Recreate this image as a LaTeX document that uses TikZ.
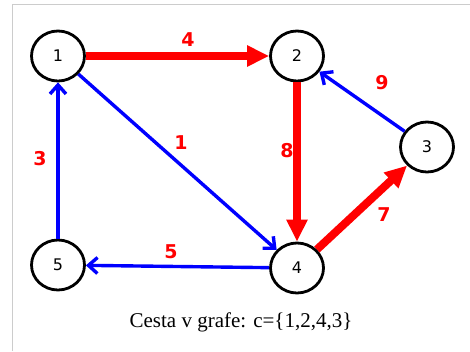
\documentclass[tikz,border=0pt]{standalone}
\usepackage{fontspec}
\setmainfont{Liberation Serif}
\newfontfamily\dejavu{DejaVu Sans}
\usetikzlibrary{arrows.meta,positioning,shapes.geometric}

\begin{document}
\begin{tikzpicture}[x=1pt,y=-1pt,>=Latex,every node/.style={font=\dejavu\fontsize{16}{18}\selectfont}]
  \tikzset{v/.style={ellipse,draw,line width=2.8pt,minimum width=53pt,minimum height=50pt,inner sep=0pt},
    path/.style={->,red,line width=8pt,>={Triangle[length=22pt,width=20pt]}},
    edge/.style={->,blue,line width=3.4pt,>={Straight Barb[length=9pt,width=16pt]}},
    w/.style={red,font=\dejavu\bfseries\fontsize{19}{21}\selectfont,inner sep=0pt}}
  \useasboundingbox (0,0) rectangle (470,351);
  \draw[gray!40,line width=1pt] (12.5,351) -- (12.5,4.5) -- (470,4.5);
  \node[v] (n1) at (58,56) {1};
  \node[v] (n2) at (297,56) {2};
  \node[v] (n3) at (427,147) {3};
  \node[v] (n4) at (297,268) {4};
  \node[v] (n5) at (58,265) {5};
  \draw[edge] (n1)--(n4);
  \draw[edge] (n3)--(n2);
  \draw[edge] (n4)--(n5);
  \draw[edge] (n5)--(n1);
  \draw[path] (n1)--(n2);
  \draw[path] (n2)--(n4);
  \draw[path] (n4)--(n3);
  \node[w] (w12) at (188,40) {4};
  \node[w] (w32) at (382,83) {9};
  \node[w] (w14) at (181,143) {1};
  \node[w] (w24) at (287,151) {8};
  \node[w] (w51) at (40,159) {3};
  \node[w] (w43) at (384,215) {7};
  \node[w] (w45) at (171,252) {5};
  \node[font=\rmfamily\fontsize{21}{24}\selectfont,anchor=base] (cap) at (241,327) {Cesta v grafe: c=\{1,2,4,3\}};
\end{tikzpicture}
\end{document}
